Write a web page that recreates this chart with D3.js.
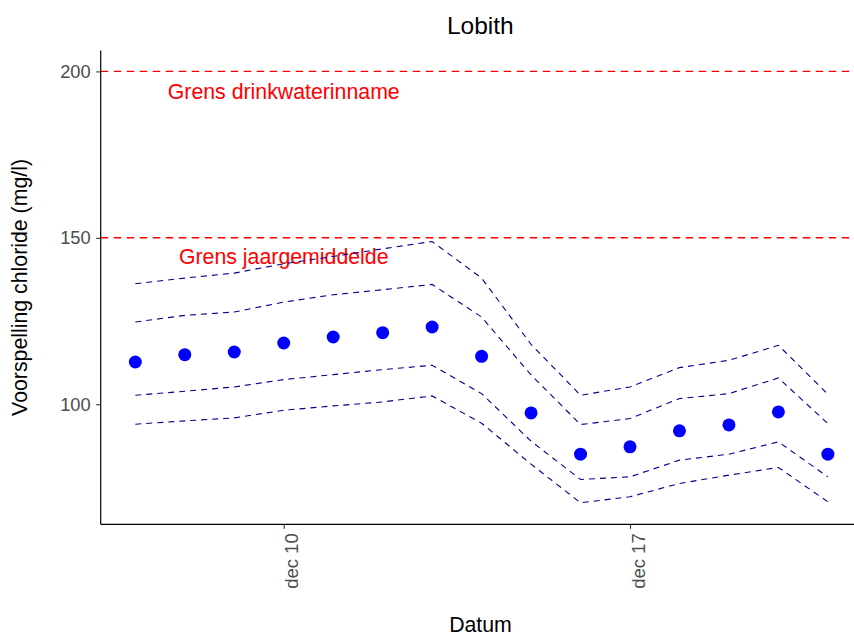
<!DOCTYPE html>
<html>
<head>
<meta charset="utf-8">
<script src="https://cdn.jsdelivr.net/npm/d3@7"></script>
<style>
  html, body { margin: 0; padding: 0; background: #fff; }
  svg { display: block; font-family: "Liberation Sans", Arial, sans-serif; }
</style>
</head>
<body>
<svg id="chart" width="854" height="636"></svg>
<script>
// ---------- data ----------
const dates = ["2022-12-07","2022-12-08","2022-12-09","2022-12-10","2022-12-11","2022-12-12","2022-12-13",
               "2022-12-14","2022-12-15","2022-12-16","2022-12-17","2022-12-18","2022-12-19","2022-12-20","2022-12-21"];
const prediction = [112.7,114.9,115.7,118.4,120.2,121.5,123.2,114.4,97.4,85.0,87.2,92.0,93.8,97.7,85.0];
const upperOuter = [136.2,137.9,139.4,142.2,144.4,146.7,148.9,137.9,118.0,102.7,105.2,111.0,113.2,117.7,103.0];
const upperInner = [124.7,126.7,127.7,130.7,132.9,134.4,136.0,126.2,108.8,93.9,95.7,101.7,103.2,107.9,94.2];
const lowerInner = [102.7,103.9,105.2,107.4,108.9,110.4,111.7,103.2,88.9,77.4,78.2,83.2,85.0,88.7,78.2];
const lowerOuter = [94.0,95.0,95.9,98.2,99.5,100.7,102.5,94.3,82.0,70.4,72.2,76.2,78.7,81.0,70.7];

const limits = [200, 150];
const limitLabels = ["Grens drinkwaterinname", "Grens jaargemiddelde"];
const limitLabelY = [194, 144.5];
const limitLabelDate = "2022-12-10";

const yTicks = [100, 150, 200];
const xTickDates = ["2022-12-10", "2022-12-17"];
const xTickLabels = ["dec 10", "dec 17"];

const title = "Lobith";
const xTitle = "Datum";
const yTitle = "Voorspelling chloride (mg/l)";

// ---------- layout ----------
const parse = d3.utcParse("%Y-%m-%d");
const dt = dates.map(parse);
const panel = { left: 100.7, top: 50.6, bottom: 524.3, right: 862.5 };
const day = 864e5;
const xDom = [new Date(dt[0].getTime() - 0.7 * day), new Date(dt[dt.length - 1].getTime() + 0.7 * day)];

const x = d3.scaleUtc().domain(xDom).range([panel.left, panel.right]);
const y = d3.scaleLinear().domain([63.93, 206.25]).range([panel.bottom, panel.top]);

const svg = d3.select("#chart");

// limit lines
svg.selectAll("line.limit").data(limits).join("line")
  .attr("class", "limit")
  .attr("x1", panel.left).attr("x2", 854)
  .attr("y1", d => y(d)).attr("y2", d => y(d))
  .attr("stroke", "#FF0000").attr("stroke-width", 1.4)
  .attr("stroke-dasharray", "7.5,5.5");

// limit labels
svg.selectAll("text.limitlab").data(limitLabels).join("text")
  .attr("class", "limitlab")
  .attr("x", x(parse(limitLabelDate)))
  .attr("y", (d, i) => y(limitLabelY[i]))
  .attr("dy", "0.35em")
  .attr("text-anchor", "middle")
  .attr("fill", "#FF0000")
  .style("font-size", "21.3px")
  .text(d => d);

// band lines
const line = d3.line().x((d, i) => x(dt[i])).y(d => y(d));
[upperOuter, upperInner, lowerInner, lowerOuter].forEach(s => {
  svg.append("path")
    .attr("d", line(s))
    .attr("fill", "none")
    .attr("stroke", "#00008B")
    .attr("stroke-width", 1.1)
    .attr("stroke-dasharray", "6,5");
});

// points
svg.selectAll("circle.pt").data(prediction).join("circle")
  .attr("class", "pt")
  .attr("cx", (d, i) => x(dt[i]))
  .attr("cy", d => y(d))
  .attr("r", 6.5)
  .attr("fill", "#0000FF");

// y axis
const yAxis = svg.append("g").attr("transform", `translate(${panel.left},0)`)
  .call(d3.axisLeft(y).tickValues(yTicks).tickSize(4.5).tickPadding(5.5).tickFormat(d3.format("d")));
yAxis.select(".domain").attr("d", `M0,${panel.top}V${panel.bottom}`).attr("stroke", "#000").attr("stroke-width", 1.2);
yAxis.selectAll(".tick line").attr("stroke", "#333").attr("stroke-width", 1.1);
yAxis.selectAll(".tick text").attr("fill", "#4D4D4D").style("font-size", "18.3px")
  .style("font-family", "'Liberation Sans', Arial, sans-serif");

// x axis
const xAxis = svg.append("g").attr("transform", `translate(0,${panel.bottom})`)
  .call(d3.axisBottom(x).tickValues(xTickDates.map(parse)).tickSize(4.5)
    .tickFormat((d, i) => xTickLabels[i]));
xAxis.select(".domain").attr("d", `M${panel.left},0H854`).attr("stroke", "#000").attr("stroke-width", 1.2);
xAxis.selectAll(".tick line").attr("stroke", "#333").attr("stroke-width", 1.1);
xAxis.selectAll(".tick text")
  .attr("fill", "#4D4D4D")
  .style("font-size", "18.5px")
  .style("font-family", "'Liberation Sans', Arial, sans-serif")
  .attr("text-anchor", "end")
  .attr("dy", null)
  .attr("x", 0).attr("y", 0)
  .attr("transform", "translate(14,9) rotate(-90)");

// titles
svg.append("text")
  .attr("x", (panel.left + 854) / 2 + 3)
  .attr("y", 33.5)
  .attr("text-anchor", "middle")
  .style("font-size", "24.5px")
  .attr("fill", "#000")
  .text(title);

svg.append("text")
  .attr("x", 480.5)
  .attr("y", 632)
  .attr("text-anchor", "middle")
  .style("font-size", "21.3px")
  .attr("fill", "#000")
  .text(xTitle);

svg.append("text")
  .attr("transform", `translate(27,${(panel.top + panel.bottom) / 2}) rotate(-90)`)
  .attr("text-anchor", "middle")
  .style("font-size", "21.3px")
  .attr("fill", "#000")
  .text(yTitle);
</script>
</body>
</html>
